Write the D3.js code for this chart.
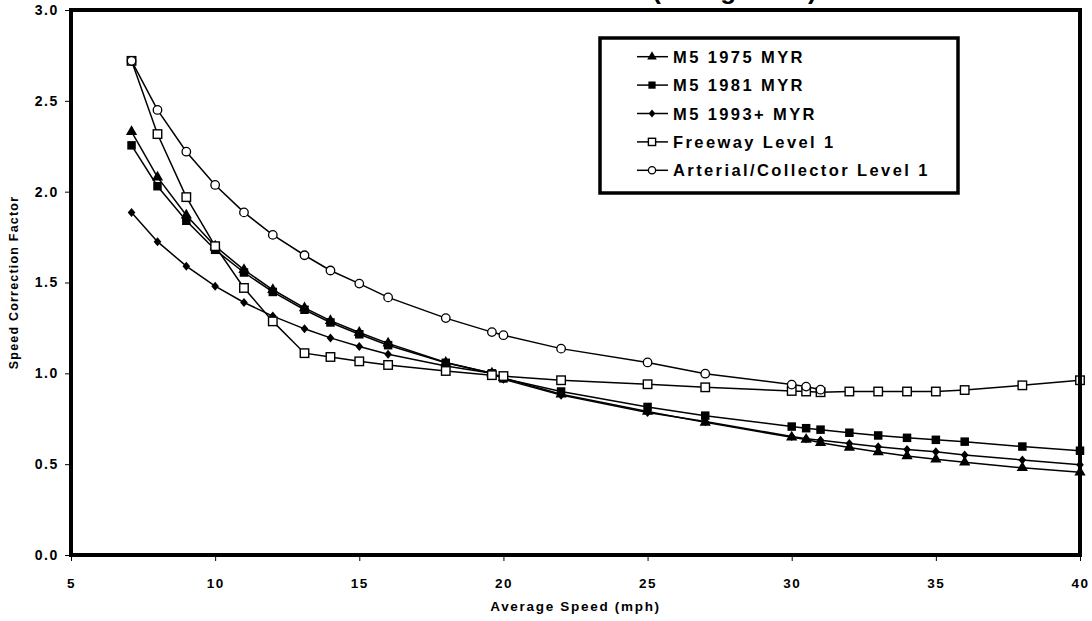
<!DOCTYPE html>
<html>
<head>
<meta charset="utf-8">
<script src="https://cdn.jsdelivr.net/npm/d3@7"></script>
<style>
  html, body { margin: 0; padding: 0; background: #fff; }
  svg { display: block; font-family: "Liberation Sans", Arial, sans-serif; }
</style>
</head>
<body>
<svg id="chart" width="1092" height="621"></svg>
<script>
// ---- data ----
const title = "(Weighted)";
const xTitle = "Average Speed (mph)";
const yTitle = "Speed Correction Factor";
const xTicks = [5, 10, 15, 20, 25, 30, 35, 40];
const yTicks = [0, 0.5, 1.0, 1.5, 2.0, 2.5, 3.0];

const speeds = [7.1, 8, 9, 10, 11, 12, 13.1, 14, 15, 16, 18, 19.6, 20, 22, 25, 27, 30, 30.5, 31, 32, 33, 34, 35, 36, 38, 40];
const arterialSpeeds = [7.1, 8, 9, 10, 11, 12, 13.1, 14, 15, 16, 18, 19.6, 20, 22, 25, 27, 30, 30.5, 31];

const m5_1975 = [2.33, 2.08, 1.87, 1.70, 1.57, 1.46, 1.36, 1.29, 1.225, 1.165, 1.06, 1.0, 0.975, 0.885, 0.79, 0.73, 0.648, 0.636, 0.618, 0.592, 0.567, 0.545, 0.527, 0.51, 0.48, 0.455];
const m5_1981 = [2.255, 2.03, 1.84, 1.68, 1.555, 1.448, 1.35, 1.28, 1.215, 1.155, 1.058, 1.0, 0.972, 0.90, 0.815, 0.767, 0.707, 0.698, 0.69, 0.673, 0.658, 0.645, 0.634, 0.624, 0.597, 0.574];
const m5_1993 = [1.885, 1.725, 1.59, 1.48, 1.39, 1.315, 1.245, 1.195, 1.148, 1.105, 1.04, 1.0, 0.968, 0.88, 0.785, 0.735, 0.652, 0.64, 0.632, 0.614, 0.596, 0.581, 0.568, 0.55, 0.523, 0.497];
const freeway = [2.72, 2.317, 1.97, 1.70, 1.47, 1.286, 1.111, 1.09, 1.066, 1.046, 1.013, 0.99, 0.985, 0.962, 0.94, 0.923, 0.903, 0.90, 0.896, 0.90, 0.90, 0.90, 0.90, 0.908, 0.934, 0.962];
const arterial = [2.72, 2.45, 2.22, 2.037, 1.886, 1.762, 1.65, 1.566, 1.494, 1.418, 1.304, 1.227, 1.21, 1.136, 1.06, 0.998, 0.938, 0.927, 0.91];

const seriesNames = ["M5 1975 MYR", "M5 1981 MYR", "M5 1993+ MYR", "Freeway Level 1", "Arterial/Collector Level 1"];
const seriesX = [speeds, speeds, speeds, speeds, arterialSpeeds];
const seriesY = [m5_1975, m5_1981, m5_1993, freeway, arterial];
const seriesMarker = ["triangle", "square", "diamond", "openSquare", "openCircle"];

// ---- layout ----
const svg = d3.select("#chart");
const L = 71, R = 1080, T = 10, B = 555;
const x = d3.scaleLinear().domain([5, 40]).range([L, R]);
const y = d3.scaleLinear().domain([0, 3]).range([B, T]);

// title (mostly clipped at top, as in reference)
svg.append("text")
  .attr("x", 820).attr("y", -1)
  .attr("text-anchor", "end")
  .attr("font-size", 26).attr("font-weight", "bold")
  .attr("letter-spacing", 3.4)
  .text(title);

// axes
const xAxis = d3.axisBottom(x).tickValues(xTicks).tickSize(6).tickFormat(d3.format("d"));
const yAxis = d3.axisLeft(y).tickValues(yTicks).tickSize(6).tickFormat(d3.format(".1f"));

const gx = svg.append("g").attr("transform", `translate(0,${B})`).call(xAxis);
gx.select(".domain").remove();
gx.selectAll(".tick line").attr("stroke", "#000").attr("stroke-width", 1);
gx.selectAll(".tick text")
  .attr("font-size", 13.5).attr("font-weight", "bold").attr("fill", "#000")
  .attr("font-family", "Liberation Sans, Arial, sans-serif")
  .attr("letter-spacing", 1.5)
  .attr("y", 23);

const gy = svg.append("g").attr("transform", `translate(${L},0)`).call(yAxis);
gy.select(".domain").remove();
gy.selectAll(".tick line").attr("stroke", "#000").attr("stroke-width", 1);
gy.selectAll(".tick text")
  .attr("font-size", 14).attr("font-weight", "bold").attr("fill", "#000")
  .attr("font-family", "Liberation Sans, Arial, sans-serif")
  .attr("letter-spacing", 1.6)
  .attr("x", -12);

// axis titles
svg.append("text")
  .attr("x", (L + R) / 2).attr("y", 611)
  .attr("text-anchor", "middle")
  .attr("font-size", 13.5).attr("font-weight", "bold")
  .attr("letter-spacing", 1.7)
  .text(xTitle);

svg.append("text")
  .attr("transform", `translate(18,${(T + B) / 2}) rotate(-90)`)
  .attr("text-anchor", "middle")
  .attr("font-size", 12.5).attr("font-weight", "bold")
  .attr("letter-spacing", 1.2)
  .text(yTitle);

// markers
function drawMarker(g, type, cx, cy, s) {
  if (type === "triangle") {
    g.append("path").attr("d", d3.symbol(d3.symbolTriangle, s * s * 0.55)())
      .attr("transform", `translate(${cx},${cy})`).attr("fill", "#000");
  } else if (type === "square") {
    g.append("rect").attr("x", cx - s / 2).attr("y", cy - s / 2)
      .attr("width", s).attr("height", s).attr("fill", "#000");
  } else if (type === "diamond") {
    const h = s / 2 + 0.5;
    g.append("path").attr("d", `M${cx},${cy - h}L${cx + h * 0.85},${cy}L${cx},${cy + h}L${cx - h * 0.85},${cy}Z`)
      .attr("fill", "#000");
  } else if (type === "openSquare") {
    g.append("rect").attr("x", cx - s / 2).attr("y", cy - s / 2)
      .attr("width", s).attr("height", s)
      .attr("fill", "#fff").attr("stroke", "#000").attr("stroke-width", 1.4);
  } else if (type === "openCircle") {
    g.append("circle").attr("cx", cx).attr("cy", cy).attr("r", s / 2)
      .attr("fill", "#fff").attr("stroke", "#000").attr("stroke-width", 1.3);
  }
}
const markerSize = { triangle: 10, square: 8.5, diamond: 8, openSquare: 8.5, openCircle: 8.5 };

const line = d3.line().x(d => x(d[0])).y(d => y(d[1]));
seriesNames.forEach((name, i) => {
  const pts = seriesX[i].map((sx, j) => [sx, seriesY[i][j]]);
  const g = svg.append("g");
  g.append("path").datum(pts).attr("d", line)
    .attr("fill", "none").attr("stroke", "#000").attr("stroke-width", 1.5);
  pts.forEach(p => drawMarker(g, seriesMarker[i], x(p[0]), y(p[1]), markerSize[seriesMarker[i]]));
});

// plot frame
svg.append("rect")
  .attr("x", L).attr("y", T).attr("width", R - L).attr("height", B - T)
  .attr("fill", "none").attr("stroke", "#000").attr("stroke-width", 4);

// legend
const lg = svg.append("g");
lg.append("rect").attr("x", 600).attr("y", 38).attr("width", 358).attr("height", 155)
  .attr("fill", "#fff").attr("stroke", "#000").attr("stroke-width", 3.5);
seriesNames.forEach((name, i) => {
  const cy = 56.7 + i * 28.4;
  lg.append("line").attr("x1", 637).attr("x2", 668).attr("y1", cy).attr("y2", cy)
    .attr("stroke", "#000").attr("stroke-width", 1.5);
  drawMarker(lg, seriesMarker[i], 652, cy, markerSize[seriesMarker[i]] * 0.85);
  lg.append("text").attr("x", 673).attr("y", cy + 6)
    .attr("font-size", 16.5).attr("font-weight", "bold")
    .attr("letter-spacing", 2.4)
    .text(name);
});
</script>
</body>
</html>
